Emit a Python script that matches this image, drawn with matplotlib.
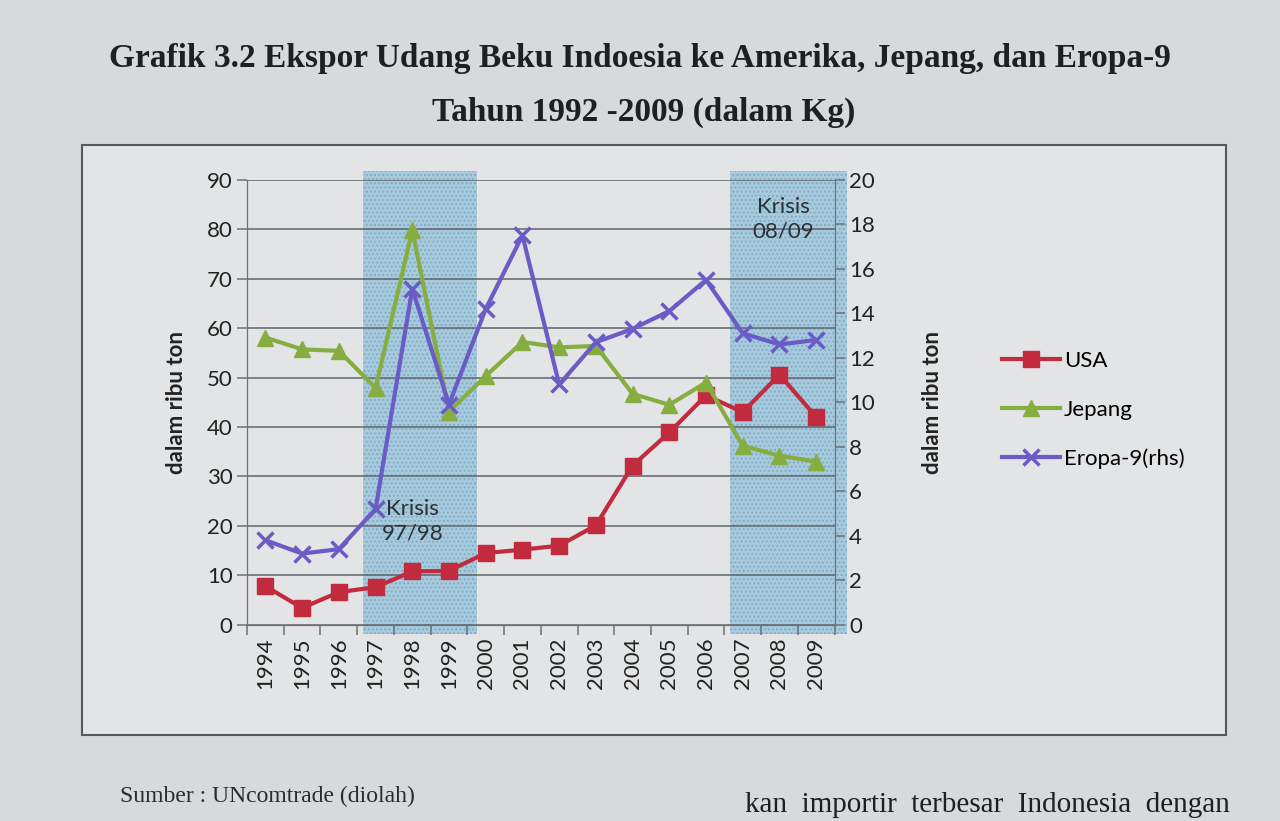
import matplotlib
matplotlib.use('Agg')
import matplotlib.pyplot as plt
import numpy as np
from matplotlib.patches import Rectangle

# data (ribu ton)
years = ['1994', '1995', '1996', '1997', '1998', '1999', '2000', '2001',
         '2002', '2003', '2004', '2005', '2006', '2007', '2008', '2009']
usa = [7.8, 3.4, 6.6, 7.6, 10.8, 10.9, 14.5, 15.2, 16.0, 20.1, 32.2, 38.9, 46.4, 43.0, 50.6, 42.0]
jepang = [58.1, 55.7, 55.4, 47.9, 79.8, 43.1, 50.3, 57.2, 56.1, 56.4, 46.7, 44.5, 49.0, 36.2, 34.2, 33.0]
eropa = [3.8, 3.2, 3.4, 5.2, 15.1, 9.9, 14.2, 17.5, 10.8, 12.7, 13.3, 14.1, 15.5, 13.1, 12.6, 12.8]

# crisis periods, in category positions
krisis_1 = (2.65, 5.75)
krisis_2 = (12.65, 15.85)

plt.rcParams['font.family'] = ['Lato', 'DejaVu Sans']

page = '#d7d9db'
fig = plt.figure(figsize=(12.8, 8.21), dpi=100, facecolor=page)

# chart frame
fig.patches.append(Rectangle((82 / 1280, 1 - 735 / 821), (1226 - 82) / 1280, (735 - 145) / 821,
                             transform=fig.transFigure, facecolor='#e2e4e5',
                             edgecolor='#55595e', linewidth=1.5, zorder=-5))

ax = fig.add_axes([0.193, 0.239, 0.459, 0.542])
ax.patch.set_visible(False)
ax2 = ax.twinx()

x = np.arange(len(years))

for a, b in [krisis_1, krisis_2]:
    ax.axvspan(a, b, ymin=-0.02, ymax=1.02, facecolor='#a8cadd', edgecolor='#82adc7',
               hatch='....', linewidth=0, clip_on=False, zorder=0)

ax.set_ylim(0, 90)
ax.set_yticks(range(0, 91, 10))
ax.yaxis.grid(True, color='#5f656b', linewidth=1.1)
ax.set_axisbelow(True)
ax.set_xlim(-0.5, 15.5)

ax.plot(x, usa, color='#c22a3d', linewidth=3, marker='s', markersize=11, label='USA', zorder=3)
ax.plot(x, jepang, color='#86ad3f', linewidth=3, marker='^', markersize=11, label='Jepang', zorder=3)
ax2.plot(x, eropa, color='#6a5bc6', linewidth=3, marker='x', markersize=12,
         markeredgewidth=2.5, label='Eropa-9(rhs)', zorder=3)

ax2.set_ylim(0, 20)
ax2.set_yticks(range(0, 21, 2))

ax.set_xticks(x)
ax.set_xticklabels(years, rotation=90, fontsize=16, color='#222222')
ax.set_xticks(np.arange(-0.5, 16, 1), minor=True)
ax.tick_params(axis='x', which='major', length=0, pad=9)
ax.tick_params(axis='x', which='minor', length=7, color='#6a7177', width=1.1)
ax.tick_params(axis='y', length=7, color='#6a7177', width=1.1, labelsize=16, labelcolor='#222222')
ax2.tick_params(axis='y', length=7, color='#6a7177', width=1.1, labelsize=16, labelcolor='#222222')

for s in ['top']:
    ax.spines[s].set_visible(False)
    ax2.spines[s].set_visible(False)
for s in ['left', 'bottom', 'right']:
    ax.spines[s].set_color('#6a7177')
    ax2.spines[s].set_color('#6a7177')

ax.set_ylabel('dalam ribu ton', fontsize=16, fontweight='bold', color='#222222', labelpad=14)
ax2.set_ylabel('dalam ribu ton', fontsize=16, fontweight='bold', color='#222222', labelpad=34)

ax.text(4.0, 21, 'Krisis\n97/98', fontsize=16, ha='center', va='center', color='#2b3035',
        linespacing=1.3, zorder=4)
ax.text(14.1, 82, 'Krisis\n08/09', fontsize=16, ha='center', va='center', color='#2b3035',
        linespacing=1.3, zorder=4)

h1, l1 = ax.get_legend_handles_labels()
h2, l2 = ax2.get_legend_handles_labels()
fig.legend(h1 + h2, l1 + l2, loc='center left', bbox_to_anchor=(982 / 1280, 1 - 410 / 821),
           frameon=False, fontsize=16, labelspacing=1.3, handlelength=2.6, handletextpad=0.2)

serif = ['Liberation Serif', 'DejaVu Serif']
fig.text(0.5, 1 - 58 / 821, 'Grafik 3.2 Ekspor Udang Beku Indoesia ke Amerika, Jepang, dan Eropa-9',
         ha='center', va='center', fontsize=24, fontweight='bold', family=serif, color='#1e1f22')
fig.text(0.503, 1 - 112 / 821, 'Tahun 1992 -2009 (dalam Kg)',
         ha='center', va='center', fontsize=24, fontweight='bold', family=serif, color='#1e1f22')
fig.text(120 / 1280, 1 - 796 / 821, 'Sumber : UNcomtrade (diolah)', ha='left', va='center',
         fontsize=17, family=serif, color='#2a2b2e')
fig.text(1230 / 1280, 1 - 812 / 821, 'kan  importir  terbesar  Indonesia  dengan', ha='right',
         va='baseline', fontsize=21, family=serif, color='#1e1f22')

fig.savefig('out.png', dpi=100, facecolor=page)
